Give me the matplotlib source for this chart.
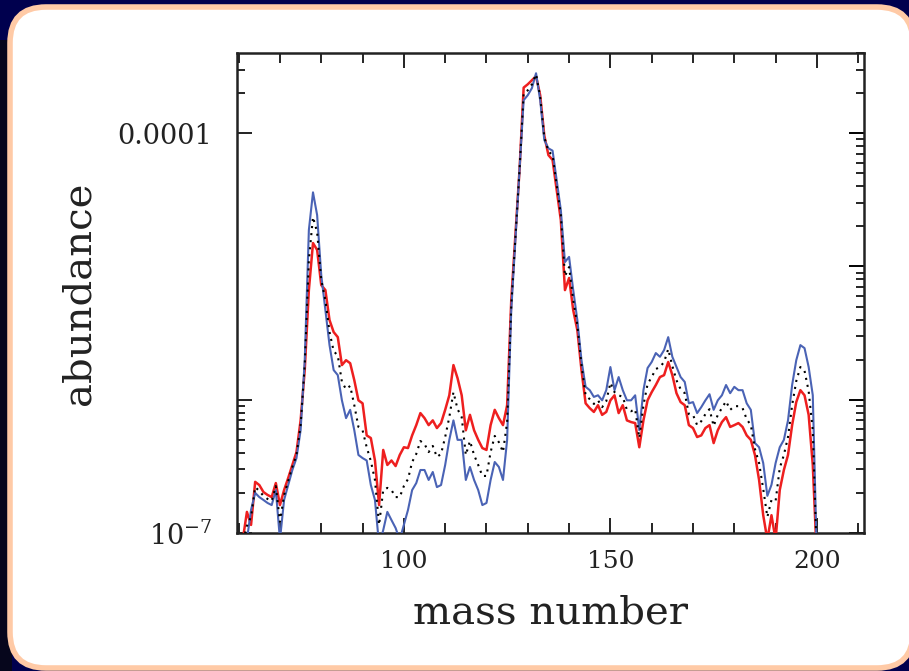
import matplotlib
matplotlib.use("Agg")
import matplotlib.pyplot as plt
from matplotlib.patches import FancyBboxPatch, Rectangle
from matplotlib.transforms import IdentityTransform
from matplotlib.ticker import FixedLocator, MultipleLocator, LogLocator, NullFormatter
import numpy as np

plt.rcParams['font.family'] = ['DejaVu Serif']
plt.rcParams['mathtext.fontset'] = 'dejavuserif'

mass = list(range(60, 201))

red = [8.1e-8, 8.9e-8, 1.44e-7, 1.15e-7, 2.42e-7, 2.29e-7, 2.03e-7, 1.93e-7, 1.86e-7, 2.37e-7,
       1.62e-7, 2.1e-7, 2.59e-7, 3.24e-7, 4.05e-7, 7.0e-7, 1.67e-6, 6.65e-6, 1.5e-5, 1.33e-5,
       7.25e-6, 6.65e-6, 3.96e-6, 3.22e-6, 2.95e-6, 1.82e-6, 1.98e-6, 1.88e-6, 1.4e-6, 9.9e-7,
       9.4e-7, 5.4e-7, 5.16e-7, 3.5e-7, 1.62e-7, 4.2e-7, 3.24e-7, 3.5e-7, 3.18e-7, 3.85e-7,
       4.4e-7, 4.34e-7, 5.4e-7, 6.45e-7, 7.94e-7, 7.28e-7, 6.45e-7, 7.0e-7, 6.13e-7, 6.68e-7,
       8.4e-7, 1.08e-6, 1.82e-6, 1.45e-6, 1.08e-6, 5.9e-7, 7.7e-7, 5.9e-7, 5.0e-7, 4.34e-7,
       4.2e-7, 6.45e-7, 8.4e-7, 7.28e-7, 6.45e-7, 9.1e-7, 5.6e-6, 1.72e-5, 5.3e-5, 2.2e-4,
       2.33e-4, 2.5e-4, 2.68e-4, 1.93e-4, 9.6e-5, 6.85e-5, 6.3e-5, 3.74e-5, 2.23e-5, 6.65e-6,
       8.2e-6, 4.7e-6, 3.33e-6, 1.67e-6, 9.4e-7, 8.65e-7, 8.1e-7, 9.1e-7, 7.7e-7, 8.1e-7,
       9.9e-7, 1.08e-6, 7.94e-7, 9.1e-7, 7.0e-7, 6.8e-7, 6.68e-7, 4.4e-7, 7.0e-7, 9.9e-7,
       1.14e-6, 1.29e-6, 1.48e-6, 1.53e-6, 1.92e-6, 1.53e-6, 1.12e-6, 9.6e-7, 9.1e-7, 6.45e-7,
       6.13e-7, 5.25e-7, 5.4e-7, 6.13e-7, 6.45e-7, 4.73e-7, 5.9e-7, 6.8e-7, 7.4e-7, 6.25e-7,
       6.45e-7, 6.68e-7, 6.25e-7, 5.4e-7, 5.0e-7, 3.85e-7, 2.5e-7, 1.36e-7, 8.9e-8, 1.36e-7,
       8.9e-8, 2.1e-7, 2.97e-7, 3.85e-7, 6.45e-7, 9.6e-7, 1.18e-6, 1.08e-6, 7.7e-7, 3.24e-7,
       6.3e-8]

blue = [8.1e-8, 8.1e-8, 8.9e-8, 1.49e-7, 2.0e-7, 1.86e-7, 1.77e-7, 1.68e-7, 1.62e-7, 2.1e-7,
        8.9e-8, 1.77e-7, 2.29e-7, 2.97e-7, 3.65e-7, 5.9e-7, 1.98e-6, 1.88e-5, 3.6e-5, 2.43e-5,
        8.6e-6, 4.7e-6, 2.57e-6, 1.67e-6, 1.53e-6, 9.9e-7, 7.28e-7, 8.4e-7, 5.9e-7, 3.85e-7,
        3.65e-7, 3.5e-7, 2.29e-7, 1.77e-7, 8.1e-8, 1.05e-7, 1.44e-7, 1.25e-7, 1.09e-7, 8.9e-8,
        1.15e-7, 1.49e-7, 2.1e-7, 2.37e-7, 2.97e-7, 2.97e-7, 2.5e-7, 2.87e-7, 2.21e-7, 2.29e-7,
        3.24e-7, 5.0e-7, 7.0e-7, 5.0e-7, 5.0e-7, 2.5e-7, 3.13e-7, 2.5e-7, 2.1e-7, 1.62e-7,
        1.68e-7, 2.5e-7, 3.41e-7, 3.13e-7, 2.5e-7, 5.0e-7, 4.7e-6, 1.58e-5, 5.3e-5, 1.77e-4,
        1.93e-4, 2.18e-4, 2.82e-4, 1.77e-4, 8.9e-5, 7.7e-5, 7.4e-5, 4.4e-5, 2.65e-5, 1.08e-5,
        1.18e-5, 6.65e-6, 3.96e-6, 1.98e-6, 1.25e-6, 1.18e-6, 1.05e-6, 1.08e-6, 9.9e-7, 1.18e-6,
        1.76e-6, 1.18e-6, 1.48e-6, 1.18e-6, 9.9e-7, 9.9e-7, 1.08e-6, 5.9e-7, 1.18e-6, 1.73e-6,
        1.92e-6, 2.24e-6, 2.1e-6, 2.36e-6, 2.95e-6, 2.1e-6, 1.76e-6, 1.48e-6, 1.36e-6, 9.4e-7,
        9.6e-7, 7.94e-7, 8.8e-7, 9.9e-7, 1.1e-6, 8.4e-7, 9.9e-7, 1.08e-6, 1.29e-6, 1.12e-6,
        1.25e-6, 1.18e-6, 1.18e-6, 9.4e-7, 8.4e-7, 4.73e-7, 4.4e-7, 3.35e-7, 1.9e-7, 2.3e-7,
        3.35e-7, 4.4e-7, 5.0e-7, 7.0e-7, 1.29e-6, 1.98e-6, 2.57e-6, 2.44e-6, 1.76e-6, 1.08e-6,
        6.3e-8]

mean = [8.1e-8, 8.5e-8, 1.13e-7, 1.32e-7, 2.21e-7, 2.07e-7, 1.9e-7, 1.8e-7, 1.74e-7, 2.25e-7,
        1.21e-7, 1.93e-7, 2.46e-7, 3.13e-7, 3.85e-7, 6.45e-7, 1.82e-6, 1.12e-5, 2.35e-5, 1.81e-5,
        7.9e-6, 5.6e-6, 3.22e-6, 2.32e-6, 2.14e-6, 1.36e-6, 1.2e-6, 1.27e-6, 9.1e-7, 6.25e-7,
        5.9e-7, 4.4e-7, 3.47e-7, 2.5e-7, 1.15e-7, 2.1e-7, 2.18e-7, 2.1e-7, 1.86e-7, 1.86e-7,
        2.25e-7, 2.54e-7, 3.41e-7, 3.92e-7, 4.9e-7, 4.65e-7, 4.05e-7, 4.5e-7, 3.72e-7, 3.92e-7,
        5.25e-7, 7.4e-7, 1.14e-6, 8.5e-7, 7.4e-7, 3.85e-7, 4.9e-7, 3.85e-7, 3.24e-7, 2.68e-7,
        2.68e-7, 4.05e-7, 5.35e-7, 4.8e-7, 4.05e-7, 6.8e-7, 5.1e-6, 1.66e-5, 5.3e-5, 2.0e-4,
        2.1e-4, 2.33e-4, 2.77e-4, 1.88e-4, 9.35e-5, 7.3e-5, 6.85e-5, 4.1e-5, 2.43e-5, 8.45e-6,
        9.9e-6, 5.6e-6, 3.63e-6, 1.82e-6, 1.08e-6, 1.01e-6, 9.3e-7, 9.9e-7, 8.8e-7, 9.75e-7,
        1.34e-6, 1.14e-6, 1.08e-6, 1.05e-6, 8.4e-7, 8.2e-7, 8.5e-7, 5.16e-7, 9.1e-7, 1.31e-6,
        1.48e-6, 1.7e-6, 1.76e-6, 1.92e-6, 2.4e-6, 1.79e-6, 1.4e-6, 1.2e-6, 1.12e-6, 7.8e-7,
        7.7e-7, 6.45e-7, 6.9e-7, 7.8e-7, 8.5e-7, 6.35e-7, 7.7e-7, 8.65e-7, 9.75e-7, 8.4e-7,
        8.95e-7, 8.95e-7, 8.65e-7, 7.15e-7, 6.45e-7, 4.27e-7, 3.35e-7, 2.14e-7, 1.32e-7, 1.77e-7,
        1.74e-7, 3.07e-7, 3.85e-7, 5.25e-7, 9.1e-7, 1.38e-6, 1.76e-6, 1.65e-6, 1.16e-6, 5.9e-7,
        6.3e-8]

x_major = [100, 150, 200]
y_label_ticks = [1e-7, 1e-6, 1e-4]
y_label_text = ['10$^{-7}$', '', '0.0001']

W, H = 909, 671
fig = plt.figure(figsize=(W / 100, H / 100), dpi=100)
fig.patch.set_facecolor('#00004e')

# darker strip on the left of the slide background
fig.patches.append(Rectangle((0, 0), 12, H - 40, transform=IdentityTransform(),
                             facecolor='#06061c', edgecolor='none', zorder=0))
# white rounded panel with peach border
panel = FancyBboxPatch((10, 3), 903, 661, boxstyle="round,pad=0,rounding_size=36",
                       transform=IdentityTransform(), facecolor='white',
                       edgecolor='#ffcaa6', linewidth=4, zorder=1)
fig.patches.append(panel)

ax = fig.add_axes([237 / W, 1 - 533 / H, 627 / W, 480 / H])
ax.set_zorder(3)
ax.patch.set_alpha(0)

ax.plot(mass, red, color='#ee1f1f', lw=1.8, zorder=3)
ax.plot(mass, blue, color='#4a63b5', lw=1.5, zorder=4)
ax.plot(mass, mean, color='black', lw=1.5, linestyle=(0, (1, 2.4)), zorder=5)

ax.set_yscale('log')
ax.set_xlim(59.6, 211.4)
ax.set_ylim(1e-7, 4e-4)

for s in ax.spines.values():
    s.set_linewidth(1.8)
    s.set_color('#222222')

# x ticks
ax.xaxis.set_major_locator(FixedLocator(x_major))
ax.xaxis.set_minor_locator(MultipleLocator(10))
ax.tick_params(axis='x', which='major', direction='in', length=11, width=1.4,
               top=True, bottom=True, labelsize=18, pad=12, colors='#222222')
ax.tick_params(axis='x', which='minor', direction='in', length=7, width=1.2,
               top=True, bottom=True)

# left y ticks (labels only where the reference has them)
ax.yaxis.set_major_locator(FixedLocator(y_label_ticks))
ax.set_yticklabels(y_label_text)
left_minor = [2e-7, 3e-7, 4e-7, 5e-7, 6e-7, 7e-7, 8e-7, 9e-7, 2e-4, 3e-4]
ax.yaxis.set_minor_locator(FixedLocator(left_minor))
ax.yaxis.set_minor_formatter(NullFormatter())
ax.tick_params(axis='y', which='major', direction='in', length=11, width=1.4,
               left=True, right=False, labelsize=19.5, pad=18, colors='#222222')
ax.tick_params(axis='y', which='minor', direction='in', length=6, width=1.2,
               left=True, right=False)
fig.canvas.draw()
for t in ax.yaxis.get_major_ticks():
    if abs(t.get_loc() - 1e-4) < 1e-9:
        t.tick1line.set_visible(False)

# right y ticks: full log ticks
axr = ax.twinx()
axr.set_yscale('log')
axr.set_ylim(ax.get_ylim())
axr.yaxis.set_major_locator(LogLocator(base=10))
axr.yaxis.set_minor_locator(LogLocator(base=10, subs=np.arange(2, 10)))
axr.yaxis.set_major_formatter(NullFormatter())
axr.yaxis.set_minor_formatter(NullFormatter())
axr.tick_params(axis='y', which='major', direction='in', length=11, width=1.4)
axr.tick_params(axis='y', which='minor', direction='in', length=6, width=1.2)
for s in axr.spines.values():
    s.set_visible(False)
axr.set_zorder(2)

ax.set_xlabel('mass number', fontsize=29, labelpad=16, color='#222222')
ax.set_ylabel('abundance', fontsize=29, labelpad=14, color='#222222')

fig.savefig('out.png', dpi=100, facecolor=fig.get_facecolor())
